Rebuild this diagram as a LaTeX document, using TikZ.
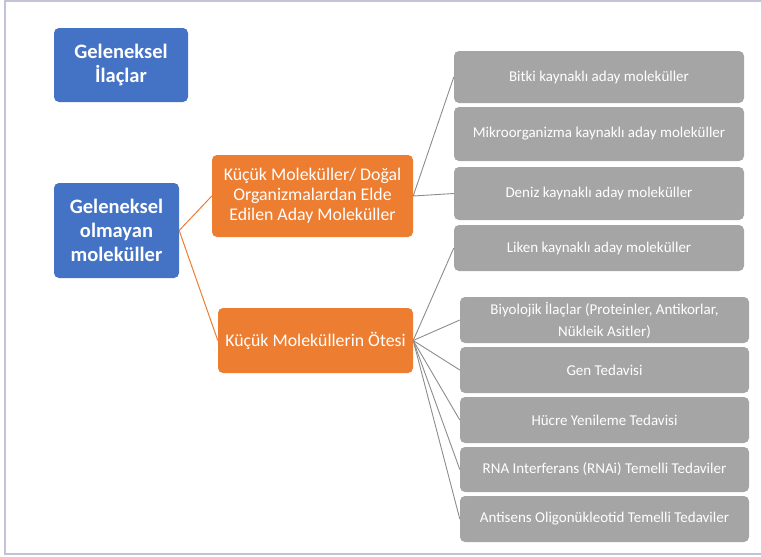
\documentclass[tikz,border=0pt]{standalone}
\usepackage{fontspec}
\setmainfont{Carlito}
\definecolor{cblue}{HTML}{4472C4}
\definecolor{corange}{HTML}{ED7D31}
\definecolor{cgray}{HTML}{A5A5A5}
\definecolor{cframe}{HTML}{C3C3D8}
\begin{document}
\begin{tikzpicture}[x=1pt,y=-1pt,
  box/.style={rounded corners=5pt, draw=none, text=white, align=center, inner sep=2pt},
  bluebox/.style={box, fill=cblue, font=\fontsize{20.5}{24}\selectfont\bfseries},
  orangebox/.style={box, fill=corange, font=\fontsize{17.8}{20}\selectfont},
  graybox/.style={box, fill=cgray, font=\fontsize{15}{22}\selectfont},
  olink/.style={draw=corange, line width=1pt},
  glink/.style={draw=cgray!85!black, line width=0.9pt}]
\useasboundingbox (0,0) rectangle (761,557);
% page frame
\draw[cframe, line width=2pt] (761,0.8) -- (5,0.8) -- (5,554) -- (761,554);

% left column
\node[bluebox, minimum width=134pt, minimum height=74pt] (trad) at (121,65) {Geleneksel\\İlaçlar};
\node[bluebox, minimum width=125pt, minimum height=95pt] (nontrad) at (116.5,230.5) {Geleneksel\\olmayan\\moleküller};

% middle column
\node[orangebox, minimum width=201pt, minimum height=82pt] (small) at (312.5,196) {Küçük Moleküller/ Doğal\\Organizmalardan Elde\\Edilen Aday Moleküller};
\node[orangebox, minimum width=195pt, minimum height=65pt] (beyond) at (315.5,340.5) {Küçük Moleküllerin Ötesi};

% right column, upper group
\node[graybox, minimum width=290pt, minimum height=52pt] (plant) at (599,77) {Bitki kaynaklı aday moleküller};
\node[graybox, minimum width=290pt, minimum height=54pt] (micro) at (599,134) {Mikroorganizma kaynaklı aday moleküller};
\node[graybox, minimum width=290pt, minimum height=53pt] (marine) at (599,193.5) {Deniz kaynaklı aday moleküller};
\node[graybox, minimum width=290pt, minimum height=46pt] (lichen) at (599,248) {Liken kaynaklı aday moleküller};

% right column, lower group
\node[graybox, minimum width=289pt, minimum height=46pt] (bio) at (604.5,320) {Biyolojik İlaçlar (Proteinler, Antikorlar,\\Nükleik Asitler)};
\node[graybox, minimum width=289pt, minimum height=46pt] (gene) at (604.5,370) {Gen Tedavisi};
\node[graybox, minimum width=289pt, minimum height=46pt] (cell) at (604.5,420) {Hücre Yenileme Tedavisi};
\node[graybox, minimum width=289pt, minimum height=45pt] (rnai) at (604.5,469.5) {RNA Interferans (RNAi) Temelli Tedaviler};
\node[graybox, minimum width=289pt, minimum height=46pt] (anti) at (604.5,519) {Antisens Oligonükleotid Temelli Tedaviler};

% connectors
\draw[olink] (small.west) -- (nontrad.east) -- (beyond.west);
\draw[glink] (plant.west) -- (small.east) -- (marine.west);
\foreach \t in {lichen,bio,gene,cell,rnai,anti}
  \draw[glink] (beyond.east) -- (\t.west);
\end{tikzpicture}
\end{document}
